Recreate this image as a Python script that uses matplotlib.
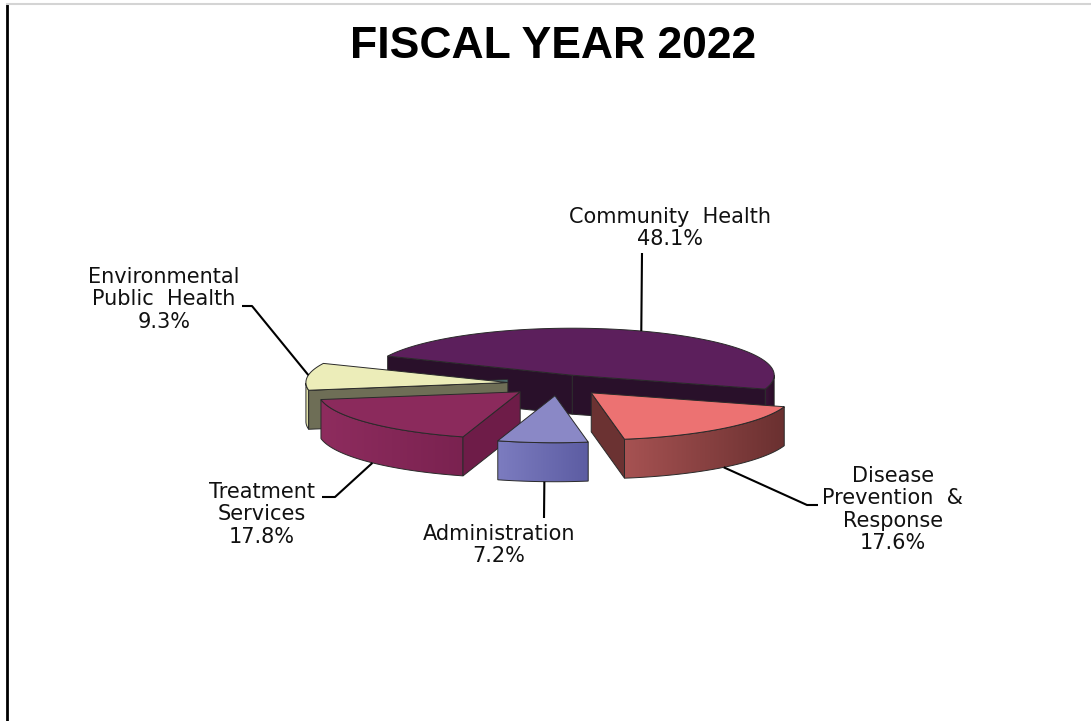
import numpy as np
import matplotlib.pyplot as plt
from matplotlib.patches import Polygon
from matplotlib.colors import LinearSegmentedColormap

# budget shares, in the order the slices run clockwise
labels = ["Community  Health", "Disease\nPrevention  &\nResponse", "Administration",
          "Treatment\nServices", "Environmental\nPublic  Health"]
shares = [48.1, 17.6, 7.2, 17.8, 9.3]

top_colors = ["#5c1f5c", "#ec7272", "#8a88c6", "#8b2a5c", "#ecedb9"]
cut_colors = ["#29102a", "#6b3232", "#6a68ae", "#6e1c48", "#6e6e56"]
wall_light = ["#3a1438", "#a65252", "#7c7cc0", "#8e2c5e", "#e6e7b0"]
wall_dark = ["#2a0c28", "#6a3030", "#5c5ca2", "#7a2250", "#d6d6a0"]
lip_colors = [None, None, None, None, "#4d6b6b"]
explode = [0.2, 0.25, 0.25, 0.25, 0.25]

# label text anchor (center x, top y), leader points and where the leader meets the slice
text_pos = [(670, 207), (893, 466), (499, 524), (262, 482), (164, 267)]
leader_pts = [[(642, 253)], [(818, 505), (807, 505)], [(544, 518)],
              [(322, 497), (335, 497)], [(242, 306), (252, 306)]]
leader_at = [(70, "top"), (-49, "bottom"), (-93, "bottom"), (-137, "bottom"), (171, "top")]

CX, CY = 558, 384
RX, RY = 202, 47
DEPTH = 39
START = 156
EDGE = "#2a2a2a"

fig = plt.figure(figsize=(10.91, 7.21), dpi=100)
ax = fig.add_axes([0, 0, 1, 1])
ax.axis("off")

# page frame
ax.plot([7, 7], [4, 721], color="black", lw=2, solid_capstyle="butt")
ax.plot([7, 1091], [4, 4], color="#d4d4d4", lw=1.5)

ax.text(553, 58, "FISCAL YEAR 2022", ha="center", va="baseline",
        fontsize=32, fontweight="bold", family="Liberation Sans")


def rim(px, py, ang, drop=0.0):
    t = np.radians(ang)
    return px + RX * np.cos(t), py - RY * np.sin(t) + drop


# slice angle ranges (counter-clockwise lo -> hi), slices run clockwise from START
slices = []
hi = START
for i, v in enumerate(shares):
    lo = hi - v * 3.6
    mid = (lo + hi) / 2
    px = CX + explode[i] * RX * np.cos(np.radians(mid))
    py = CY - explode[i] * RY * np.sin(np.radians(mid))
    slices.append((i, lo, hi, mid, px, py))
    hi = lo

z = 1
# paint back slices first
for i, lo, hi, mid, px, py in sorted(slices, key=lambda s: -np.sin(np.radians(s[3]))):
    # outer wall, front half only, shaded left to right
    angs = np.linspace(lo, hi, int(abs(hi - lo)) * 2 + 2)
    wa = angs[np.sin(np.radians(angs)) < 1e-9]
    if len(wa) > 1:
        outline = [rim(px, py, a) for a in wa] + [rim(px, py, a, DEPTH) for a in wa[::-1]]
        xs = [p[0] for p in outline]
        ys = [p[1] for p in outline]
        wall = Polygon(outline, closed=True, facecolor="none", edgecolor=EDGE, lw=0.7, zorder=z + 0.5)
        ax.add_patch(wall)
        cmap = LinearSegmentedColormap.from_list(f"wall{i}", [wall_light[i], wall_dark[i]])
        img = ax.imshow(np.linspace(0, 1, 256)[None, :], cmap=cmap, aspect="auto",
                        extent=(min(xs), max(xs), max(ys), min(ys)), zorder=z,
                        interpolation="bilinear")
        img.set_clip_path(wall)

    # flat cut faces that look toward the viewer
    for ang, normal in ((lo, lo - 90), (hi, hi + 90)):
        if np.sin(np.radians(normal)) < 0:
            r, rb = rim(px, py, ang), rim(px, py, ang, DEPTH)
            ax.add_patch(Polygon([(px, py), r, rb, (px, py + DEPTH)], closed=True,
                                 facecolor=cut_colors[i], edgecolor=EDGE, lw=0.7, zorder=z + 0.6))

    if lip_colors[i]:
        r = rim(px, py, hi)
        ax.add_patch(Polygon([(px, py), r, (r[0], r[1] - 3), (px, py - 3)], closed=True,
                             facecolor=lip_colors[i], edgecolor=EDGE, lw=0.5, zorder=z + 0.6))

    # top face
    arc = [rim(px, py, a) for a in np.linspace(lo, hi, 120)]
    ax.add_patch(Polygon([(px, py)] + arc, closed=True,
                         facecolor=top_colors[i], edgecolor=EDGE, lw=0.7, zorder=z + 0.8))
    z += 1

# labels and leader lines
for i, lo, hi, mid, px, py in slices:
    ang, level = leader_at[i]
    end = rim(px, py, ang, DEPTH if level == "bottom" else 0)
    pts = leader_pts[i] + [end]
    ax.plot([p[0] for p in pts], [p[1] for p in pts], color="black", lw=1.5,
            solid_capstyle="butt", zorder=10)
    tx, ty = text_pos[i]
    ax.text(tx, ty, f"{labels[i]}\n{shares[i]:.1f}%", ha="center", va="top",
            multialignment="center", fontsize=15, family="DejaVu Sans",
            linespacing=1.15, color="#111111", zorder=10)

ax.set_xlim(0, 1091)
ax.set_ylim(721, 0)
fig.savefig("out.png", dpi=100)
